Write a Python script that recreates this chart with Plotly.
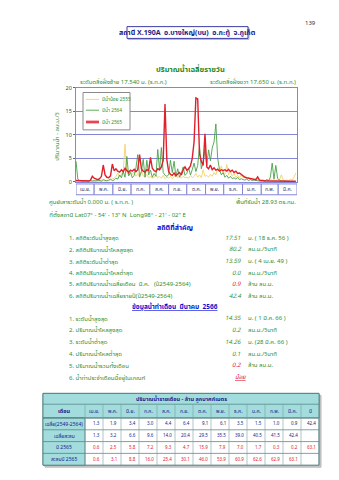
import plotly.graph_objects as go
import pandas as pd

W, H = 339, 480
def px(x): return x / W
def py(y): return 1 - y / H

# ---------------- data ----------------
dates = pd.date_range("2022-04-01", periods=122, freq="3D")

q_low_2555 = [0.1, 0.1, 0.1, 0.1, 0.1, 0.1, 0.1, 0.1, 0.1, 0.1,
              0.1, 0.1, 0.2, 0.1, 0.2, 0.3, 0.2, 0.4, 0.3, 0.5, 0.6,
              0.8, 1.2, 1.9, 1.0, 1.5, 2.2, 8.0, 2.0, 1.4, 2.3,
              1.6, 2.2, 1.2, 1.8, 1.0, 2.4, 1.3, 1.1, 1.6, 0.9,
              1.2, 0.8, 1.0, 1.5, 0.9, 1.2, 0.8, 1.4, 0.7, 1.0,
              0.8, 1.2, 0.7, 1.1, 1.6, 0.9, 1.3, 0.8, 1.2, 0.9,
              1.0, 0.8, 1.4, 0.9, 1.2, 1.8, 1.0, 1.5, 0.9, 2.6, 1.2,
              1.4, 1.0, 1.6, 1.2, 2.0, 1.5, 3.0, 2.2, 3.4, 1.8,
              1.6, 3.7, 1.5, 2.3, 1.2, 1.8, 1.0, 1.4, 0.9, 1.5,
              0.9, 1.2, 0.7, 1.0, 0.6, 0.8, 0.5, 0.7, 0.5, 0.4,
              0.4, 0.5, 0.3, 0.4, 0.3, 0.6, 0.3, 0.4, 0.3, 0.5,
              0.4, 1.5, 0.5, 0.3, 0.4, 0.3, 0.6, 0.4, 1.0, 1.9]

q_2564 = [4.4, 0.6, 0.3, 0.2, 0.2, 0.3, 0.2, 0.2, 0.3, 0.2,
          0.3, 0.2, 0.4, 0.3, 0.2, 0.5, 0.3, 0.2, 0.4, 0.6, 0.3,
          0.4, 0.8, 0.6, 1.5, 0.9, 2.2, 1.0, 5.4, 1.3, 2.0,
          0.9, 1.4, 3.0, 5.8, 1.1, 2.2, 4.8, 1.0, 4.6, 1.5,
          2.5, 1.0, 1.8, 1.2, 6.9, 2.5, 7.3, 2.0, 1.4, 1.2,
          1.5, 4.6, 2.0, 4.4, 1.2, 2.8, 1.0, 1.8, 3.2, 1.4,
          1.8, 3.0, 1.5, 2.6, 4.0, 2.2, 3.5, 7.5, 2.8, 4.2, 7.0,
          3.5, 6.8, 4.5, 7.2, 8.5, 12.3, 5.0, 2.6, 1.5, 2.0,
          1.0, 1.4, 0.8, 1.2, 0.7, 0.9, 0.6, 1.0, 0.5, 0.7,
          0.5, 0.4, 0.6, 0.3, 0.5, 0.3, 0.4, 0.3, 0.3, 0.2,
          0.2, 0.3, 0.2, 0.5, 0.3, 1.0, 4.0, 0.6, 3.5, 0.8,
          0.4, 0.2, 0.2, 0.1, 0.1, 0.1, 0.1, 0.1, 0.1, 0.1]

q_2565 = [0.3, 0.3, 0.3, 0.2, 0.2, 0.3, 0.3, 0.2, 0.4, 1.2,
          0.8, 0.6, 0.5, 0.7, 1.2, 3.6, 1.5, 1.0, 0.9, 1.3, 3.8,
          2.4, 2.8, 2.3, 2.1, 2.6, 2.2, 2.9, 2.4, 2.0, 2.5,
          2.3, 2.7, 2.2, 2.6, 5.8, 2.8, 2.3, 2.1, 2.6, 2.4,
          5.2, 2.9, 2.4, 2.2, 2.8, 2.6, 3.2, 4.6, 16.5, 4.8,
          2.2, 1.6, 1.4, 1.9, 1.3, 1.7, 2.0, 1.5, 2.6, 3.2,
          2.5, 2.8, 3.4, 5.0, 8.5, 17.8, 17.6, 6.0, 4.4, 3.5, 10.2,
          3.2, 2.8, 3.6, 2.6, 3.0, 2.5, 2.7, 2.3, 2.6, 2.4,
          2.6, 2.3, 2.7, 2.2, 2.5, 2.0, 2.3, 1.8, 1.9, 1.6,
          1.3, 1.0, 0.9, 0.8, 0.7, 0.6, 0.5, 0.5, 1.1, 0.4,
          0.3, 0.2, 0.2, 0.2, 0.2, 0.1, 0.1, 0.1, 0.1, 0.1,
          0.15, 0.15, 0.15, 0.15, 0.15, 0.15, 0.15, 0.15, 0.15, 0.15]

series_names = ["ปีน้ำน้อย 2555", "ปีน้ำ 2564", "ปีน้ำ 2565"]

month_labels = ["เม.ย.", "พ.ค.", "มิ.ย.", "ก.ค.", "ส.ค.", "ก.ย.",
                "ต.ค.", "พ.ย.", "ธ.ค.", "ม.ค.", "ก.พ.", "มี.ค."]
month_starts = pd.date_range("2022-04-01", periods=13, freq="MS")

y_ticks = [0, 5, 10, 15, 20]

avg_2549_2564 = [1.3, 1.9, 3.4, 3.0, 4.4, 6.4, 9.1, 6.1, 3.5, 1.5, 1.0, 0.9]
avg_year = 42.4
avg_cumulative = [1.3, 3.2, 6.6, 9.6, 14.0, 20.4, 29.5, 35.5, 39.0, 40.5, 41.5, 42.4]
vol_2565 = [0.6, 2.5, 5.8, 7.2, 9.3, 4.7, 15.9, 7.9, 7.0, 1.7, 0.3, 0.2]
vol_2565_total = 63.1
cum_2565 = [0.6, 3.1, 8.8, 16.0, 25.4, 30.1, 46.0, 53.9, 60.9, 62.6, 62.9, 63.1]

stats_labels = ["1. สถิติระดับน้ำสูงสุด", "2. สถิติปริมาณน้ำไหลสูงสุด", "3. สถิติระดับน้ำต่ำสุด",
                "4. สถิติปริมาณน้ำไหลต่ำสุด", "5. สถิติปริมาณน้ำเฉลี่ยเดือน  มี.ค.   (ปี2549-2564)",
                "6. สถิติปริมาณน้ำเฉลี่ยรายปี(ปี2549-2564)"]
stats_values = ["17.51", "80.2", "13.59", "0.0", "0.9", "42.4"]
stats_units = ["ม. ( 18 ธ.ค. 56 )", "ลบ.ม./วินาที", "ม. ( 4 เม.ย. 49 )", "ลบ.ม./วินาที",
               "ล้าน ลบ.ม.", "ล้าน ลบ.ม."]
month_labels2 = ["1. ระดับน้ำสูงสุด", "2. ปริมาณน้ำไหลสูงสุด", "3. ระดับน้ำต่ำสุด",
                 "4. ปริมาณน้ำไหลต่ำสุด", "5. ปริมาณน้ำรวมทั้งเดือน", "6. น้ำท่าประจำเดือนนี้อยู่ในเกณฑ์"]
month_values2 = ["14.35", "0.2", "14.26", "0.1", "0.2", ""]
month_units2 = ["ม. ( 1 มี.ค. 66 )", "ลบ.ม./วินาที", "ม. (28 มี.ค. 66 )", "ลบ.ม./วินาที", "ล้าน ลบ.ม.", ""]

# ---------------- styles ----------------
FONT = "Noto Sans Thai, Loma, Garuda, Norasi, Tahoma, DejaVu Sans, sans-serif"
GREEN = "#2f8f2f"
BLUE = "#1a1aa6"
RED = "#e0202a"
GRID = "#8585d6"
series_colors = ["#f2d36b", "#4aa04a", RED]
series_widths = [0.9, 0.9, 1.4]

fig = go.Figure()
for name, vals, col, lw in zip(series_names, [q_low_2555, q_2564, q_2565], series_colors, series_widths):
    fig.add_trace(go.Scatter(x=dates, y=vals, mode="lines", name=name,
                             line=dict(color=col, width=lw), showlegend=False))

ann = []
shapes = []

def txt(x, y, s, size=7, color=GREEN, xanchor="left", bold=False, italic=False, angle=0):
    if bold:
        s = "<b>" + s + "</b>"
    if italic:
        s = "<i>" + s + "</i>"
    ann.append(dict(x=px(x), y=py(y), xref="paper", yref="paper", text=s, showarrow=False,
                    xanchor=xanchor, yanchor="middle", textangle=angle,
                    font=dict(size=size, color=color, family=FONT)))

def rect(x0, y0, x1, y1, line="#888", fill="rgba(0,0,0,0)", lw=1, layer="below"):
    shapes.append(dict(type="rect", xref="paper", yref="paper", x0=px(x0), x1=px(x1),
                       y0=py(y1), y1=py(y0), line=dict(color=line, width=lw), fillcolor=fill, layer=layer))

# page number
txt(310, 20, "139", size=6, color="#333", xanchor="center")
# title box
rect(128, 24, 249, 36, line="#b0b0d8", lw=1)
rect(127, 23, 248, 35, line="#3d3da8", fill="white", lw=1)
txt(187.5, 29, "สถานี X.190A  อ.บางใหญ่(บน)  อ.กะทู้  จ.ภูเก็ต", size=7, color="#1b1b8a", xanchor="center", bold=True)

txt(190, 67, "ปริมาณน้ำเฉลี่ยรายวัน", size=7.5, color="#1f8a1f", xanchor="center", bold=True)
txt(78, 79, "ระดับตลิ่งฝั่งซ้าย 17.540 ม. (ร.ท.ก.)", size=6, color=GREEN)
txt(298, 79, "ระดับตลิ่งฝั่งขวา 17.650 ม. (ร.ท.ก.)", size=6, color=GREEN, xanchor="right")
txt(57, 135, "ปริมาณน้ำ - ลบ.ม./วิ", size=6, color=GREEN, xanchor="center", angle=-90)

# legend (drawn manually inside the plot)
rect(83, 90, 130, 128, line="#8a8a8a", fill="white", lw=1, layer="above")
leg_y = [97, 108, 120]
for name, col, lw, yy in zip(series_names, series_colors, series_widths, leg_y):
    if col == RED:
        shapes.append(dict(type="line", xref="paper", yref="paper", x0=px(86), x1=px(99),
                           y0=py(yy), y1=py(yy), line=dict(color="#f3a0a8", width=3.5), layer="above"))
    shapes.append(dict(type="line", xref="paper", yref="paper", x0=px(86), x1=px(99),
                       y0=py(yy), y1=py(yy), line=dict(color=col, width=lw), layer="above"))
    txt(100, yy, name, size=4.8, color=GREEN)

# month boxes below the plot
for i, lab in enumerate(month_labels):
    shapes.append(dict(type="rect", xref="x", yref="paper", x0=month_starts[i], x1=month_starts[i + 1],
                       y0=py(194), y1=py(183), line=dict(color=GRID, width=1), fillcolor="white"))
    mid = month_starts[i] + (month_starts[i + 1] - month_starts[i]) / 2
    ann.append(dict(x=mid, y=py(188.5), xref="x", yref="paper", text=lab, showarrow=False,
                    xanchor="center", yanchor="middle", font=dict(size=5, color="#333366", family=FONT)))

txt(47, 201, "ศูนย์เสาระดับน้ำ 0.000 ม. ( ร.ท.ก. )", size=6, color=GREEN)
txt(298, 201, "พื้นที่รับน้ำ 28.93 ตร.กม.", size=6, color=GREEN, xanchor="right")
txt(47, 215, "ที่ตั้งสถานี Lat07° - 54' - 13\" N  Long98° - 21' - 02\" E", size=6, color=GREEN)

txt(175, 227, "สถิติที่สำคัญ", size=7, color="#1010d0", xanchor="center", bold=True)
ys1 = [238, 250, 262, 274, 285, 297]
for i in range(6):
    txt(67, ys1[i], stats_labels[i], size=6, color=GREEN)
    txt(243, ys1[i], stats_values[i], size=6, color=RED if i == 4 else GREEN, xanchor="right", italic=True)
    txt(246, ys1[i], stats_units[i], size=6, color=GREEN)

txt(175, 308, "<u>ข้อมูลน้ำท่าเดือน  มีนาคม  2566</u>", size=6.5, color="#1010d0", xanchor="center", bold=True)
ys2 = [320, 332, 344, 356, 368, 380]
for i in range(6):
    txt(67, ys2[i], month_labels2[i], size=6, color=GREEN)
    if month_values2[i]:
        txt(243, ys2[i], month_values2[i], size=6, color=RED if i == 4 else GREEN, xanchor="right", italic=True)
        txt(246, ys2[i], month_units2[i], size=6, color=GREEN)
txt(240, 380, "<u>น้อย</u>", size=6, color=RED, xanchor="center", italic=True)

# ---------------- table ----------------
CYAN = "#a3dcdc"
TB = "#4d7a7a"
tx0, tx1 = 43, 319
c0 = 85
cw = (tx1 - c0) / 13
rows = [396, 407, 421, 433, 445, 457, 469]
rect(tx0 + 2, rows[0] + 2, tx1 + 2, rows[-1] + 2, line="#b8b8b8", fill="#c8c8c8", lw=1)
rect(tx0, rows[0], tx1, rows[-1], line=TB, fill="white", lw=1)
rect(tx0, rows[0], tx1, rows[2], line=TB, fill=CYAN, lw=0.8)
rect(tx0, rows[2], c0, rows[-1], line=TB, fill=CYAN, lw=0.8)
for r in rows[1:-1]:
    shapes.append(dict(type="line", xref="paper", yref="paper", x0=px(tx0), x1=px(tx1), y0=py(r), y1=py(r),
                       line=dict(color=TB, width=0.7)))
for k in range(14):
    xx = c0 + k * cw
    shapes.append(dict(type="line", xref="paper", yref="paper", x0=px(xx), x1=px(xx),
                       y0=py(rows[-1]), y1=py(rows[1]), line=dict(color="#7aa0a0", width=0.6)))

txt((tx0 + tx1) / 2, (rows[0] + rows[1]) / 2, "ปริมาณน้ำรายเดือน - ล้าน ลูกบาศก์เมตร", size=5.5,
    color="#1b1b8a", xanchor="center", bold=True)
hdr = month_labels + ["ปี"]
txt((tx0 + c0) / 2, (rows[1] + rows[2]) / 2, "เดือน", size=5.5, color="#1b1b8a", xanchor="center", bold=True)
for k, h in enumerate(hdr):
    txt(c0 + (k + 0.5) * cw, (rows[1] + rows[2]) / 2, h, size=5, color="#1b1b8a", xanchor="center")

row_labels = ["เฉลี่ย(2549-2564)", "เฉลี่ยสะสม", "ปี 2565", "สะสมปี 2565"]
row_vals = [avg_2549_2564 + [avg_year], avg_cumulative + [None], vol_2565 + [vol_2565_total], cum_2565 + [None]]
row_cols = ["#1b1b6a", "#1b1b8a", RED, RED]
for r in range(4):
    yc = (rows[r + 2] + rows[r + 3]) / 2
    txt((tx0 + c0) / 2, yc, row_labels[r], size=5, color="#1b1b8a", xanchor="center")
    for k, v in enumerate(row_vals[r]):
        if v is not None:
            txt(c0 + (k + 1) * cw - 1.5, yc, f"{v:.1f}", size=4.5, color=row_cols[r], xanchor="right")

fig.update_layout(
    width=W, height=H, margin=dict(l=0, r=0, t=0, b=0),
    paper_bgcolor="white", plot_bgcolor="white",
    showlegend=False,
    xaxis=dict(domain=[px(76), px(297)], range=[month_starts[0], month_starts[-1]],
               showticklabels=False, showgrid=False, zeroline=False,
               showline=True, mirror=True, linecolor=GRID, linewidth=1, ticks=""),
    yaxis=dict(domain=[py(181), py(85)], range=[0, 20], tickvals=y_ticks,
               showgrid=True, gridcolor=GRID, gridwidth=1, zeroline=False,
               showline=True, mirror=True, linecolor=GRID, linewidth=1,
               ticks="outside", ticklen=2, tickcolor="#666",
               tickfont=dict(size=5.5, color="#335533", family=FONT)),
    annotations=ann, shapes=shapes,
)
fig.write_html("out.html")
